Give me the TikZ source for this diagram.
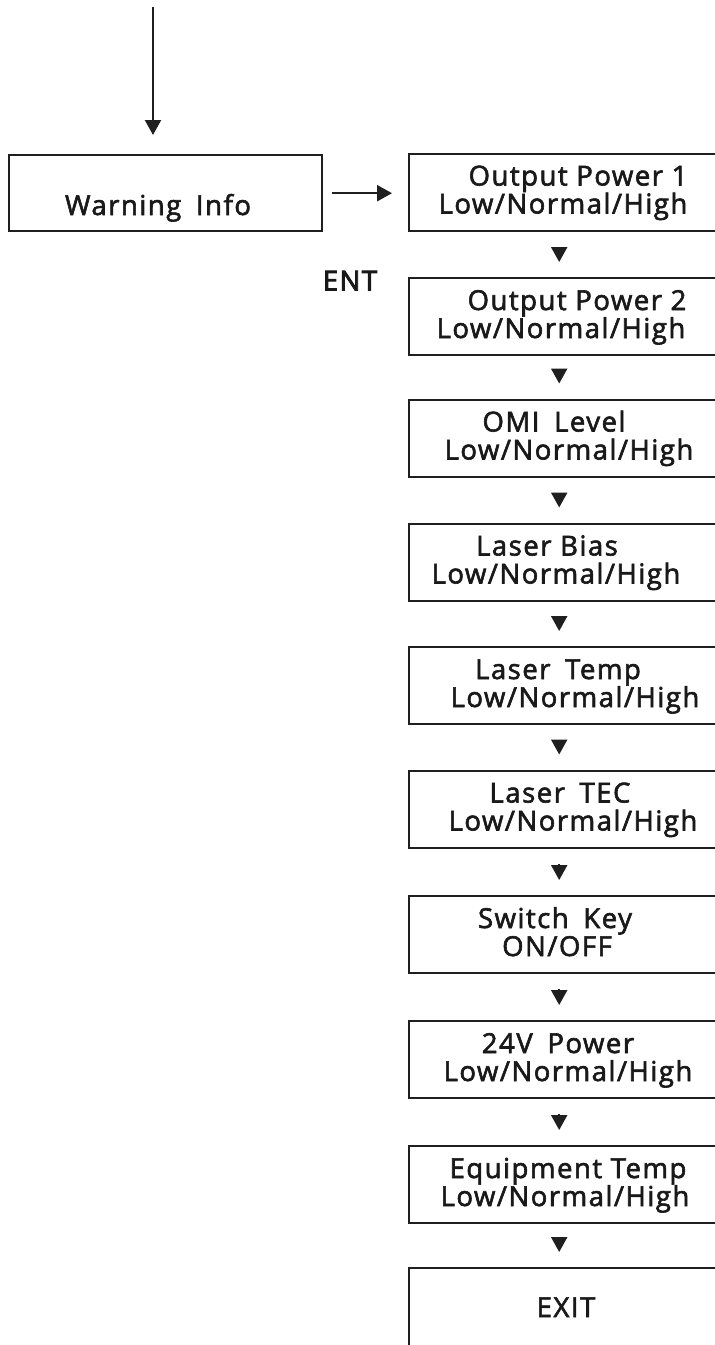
\documentclass[tikz,border=0pt]{standalone}
\usepackage{fontspec}
\setmainfont{Open Sans}[LetterSpace=5.5,FakeBold=2.2]
\usetikzlibrary{arrows.meta}
\begin{document}
\begin{tikzpicture}[x=1pt,y=-1pt,
  box/.style={draw=black!88, line width=2.4pt, minimum width=312pt, minimum height=77pt, inner sep=0pt, anchor=north west},
  txt/.style={anchor=base, inner sep=0pt, font=\fontsize{27.5}{30}\selectfont, text=black!90},
  arr/.style={draw=black!88, line width=2.2pt, -{Triangle[width=16pt,length=15pt]}},
  small/.style={arr, shorten <=15pt, shorten >=15pt}]
\useasboundingbox (0,0) rectangle (715,1345);
\fill[white] (0,0) rectangle (715,1345);
% left box
\node[box, minimum width=313pt, minimum height=76pt] (w) at (8,154) {};
\node[txt] (wt) at (158,215) {Warning\hspace{6pt} Info};
\coordinate (start) at (153,7);
\draw[arr, shorten >=19pt] (start) -- (start |- w.north);
% right column boxes
\node[box] (b0) at (408,152.5) {};
\node[box] (b1) at (408,277) {};
\node[box] (b2) at (408,398.5) {};
\node[box] (b3) at (408,522.5) {};
\node[box] (b4) at (408,646) {};
\node[box] (b5) at (408,769.5) {};
\node[box] (b6) at (408,895) {};
\node[box] (b7) at (408,1020) {};
\node[box] (b8) at (408,1145) {};
\node[box, minimum height=90pt] (b9) at (408,1267) {};
% texts
\node[txt] (t0a) at (578,185.5) {Output Power 1};
\node[txt] (t0b) at (563,213.5) {Low/Normal/High};
\node[txt] (t1a) at (577,310) {Output Power 2};
\node[txt] (t1b) at (561,338) {Low/Normal/High};
\node[txt] (t2a) at (554,431.5) {OMI\hspace{6pt} Level};
\node[txt] (t2b) at (569,459.5) {Low/Normal/High};
\node[txt] (t3a) at (547,555.5) {Laser Bias};
\node[txt] (t3b) at (556,583.5) {Low/Normal/High};
\node[txt] (t4a) at (558,679) {Laser\hspace{6pt} Temp};
\node[txt] (t4b) at (575,707) {Low/Normal/High};
\node[txt] (t5a) at (560,802.5) {Laser\hspace{6pt} TEC};
\node[txt] (t5b) at (573,830.5) {Low/Normal/High};
\node[txt] (t6a) at (555,928) {Switch\hspace{6pt} Key};
\node[txt] (t6b) at (557,956) {ON/OFF};
\node[txt] (t7a) at (558,1053) {24V\hspace{6pt} Power};
\node[txt] (t7b) at (568,1081) {Low/Normal/High};
\node[txt] (t8a) at (568,1178) {Equipment Temp};
\node[txt] (t8b) at (565,1206) {Low/Normal/High};
\node[txt] (t9) at (566,1317) {EXIT};
\node[txt, font=\fontsize{27.5}{30}\selectfont\addfontfeature{FakeBold=3}] (ent) at (350,290.5) {ENT};
% connectors
\draw[arr, shorten <=9pt, shorten >=16pt] (w.east) -- (w.east -| b0.west);
\foreach \i/\j in {0/1,1/2,2/3,3/4,4/5,5/6,6/7,7/8,8/9}
  \draw[small] ([xshift=-6pt]b\i.south) -- ([xshift=-6pt]b\j.north);
\end{tikzpicture}
\end{document}
